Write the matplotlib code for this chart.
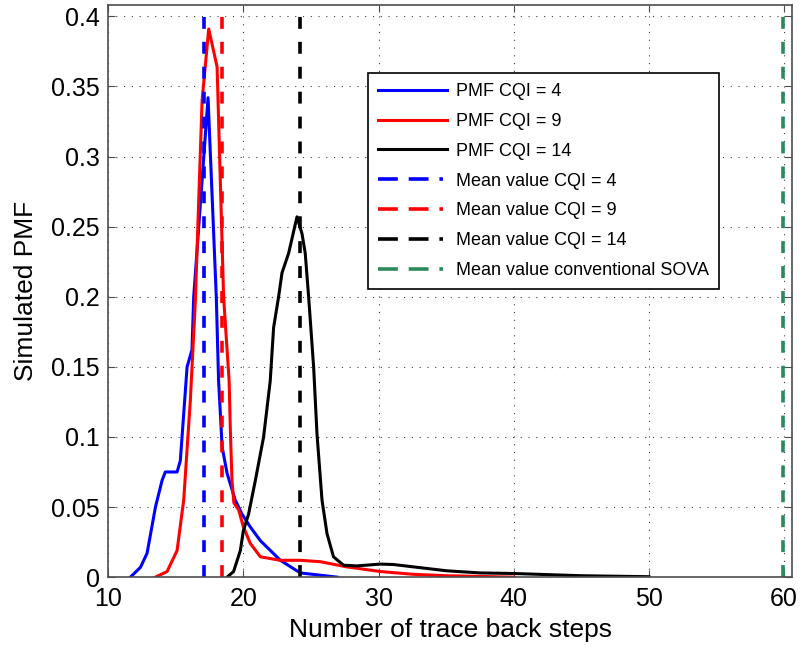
import numpy as np
from matplotlib import pyplot as plt
from matplotlib.lines import Line2D

# PMF curves (x = trace back steps, y = simulated PMF)
cqi4_x = [11.65, 12.39, 12.88, 13.5, 13.99, 14.23, 15.1, 15.34, 15.84, 16.2, 16.33, 17.39,
          18.0, 18.17, 18.3, 18.43, 18.8, 19.4, 19.9, 20.5, 21.26, 22.74, 24.21, 26.93]
cqi4_y = [0.0, 0.007, 0.017, 0.05, 0.069, 0.075, 0.075, 0.083, 0.15, 0.162, 0.2, 0.342,
          0.2, 0.14, 0.117, 0.093, 0.074, 0.055, 0.045, 0.036, 0.026, 0.012, 0.003, 0.0]

cqi9_x = [13.5, 14.36, 15.1, 15.59, 16.08, 16.45, 16.95, 17.44, 18.06, 18.54, 18.95, 19.04,
          19.16, 19.3, 19.65, 20.0, 20.52, 21.26, 22.74, 24.21, 25.69, 27.66, 30.12, 32.57,
          35.0, 40.0]
cqi9_y = [0.0, 0.004, 0.019, 0.055, 0.126, 0.197, 0.34, 0.391, 0.364, 0.2, 0.14, 0.105,
          0.069, 0.053, 0.048, 0.036, 0.024, 0.0145, 0.012, 0.012, 0.011, 0.0073, 0.004, 0.002,
          0.001, 0.0]

cqi14_x = [18.8, 19.28, 19.78, 20.0, 20.39, 20.89, 21.5, 21.99, 22.24, 22.61, 22.86, 23.35,
           23.97, 24.34, 24.58, 24.83, 25.2, 25.45, 25.82, 26.19, 26.67, 27.41, 28.4, 30.13,
           31.11, 32.59, 35.06, 37.52, 39.96, 45.0, 50.0]
cqi14_y = [0.0, 0.004, 0.019, 0.033, 0.045, 0.069, 0.1, 0.14, 0.178, 0.2, 0.217, 0.231,
           0.257, 0.245, 0.231, 0.2, 0.15, 0.102, 0.055, 0.031, 0.0145, 0.0085, 0.008, 0.0093,
           0.009, 0.0073, 0.0045, 0.003, 0.0026, 0.001, 0.0003]

# mean values (vertical lines)
mean_cqi4 = 17.12
mean_cqi9 = 18.43
mean_cqi14 = 24.16
mean_sova = 59.95

x_ticks = [10, 20, 30, 40, 50, 60]
y_ticks = [0, 0.05, 0.1, 0.15, 0.2, 0.25, 0.3, 0.35, 0.4]
y_tick_labels = ["0", "0.05", "0.1", "0.15", "0.2", "0.25", "0.3", "0.35", "0.4"]

plt.rcParams['font.family'] = ['Liberation Sans', 'DejaVu Sans']

fig = plt.figure(figsize=(8.01, 6.47), dpi=100)
ax = fig.add_axes([0.135, 0.108, 0.854, 0.884])

green = "#2a8a5a"
lw = 2.2
ax.plot(cqi4_x, cqi4_y, color="blue", lw=lw)
ax.plot(cqi9_x, cqi9_y, color="red", lw=lw)
ax.plot(cqi14_x, cqi14_y, color="black", lw=lw)

# mean value lines
mlw = 2.6
dash = (0, (3.3, 3.6))
ax.axvline(mean_cqi4, color="blue", lw=mlw, linestyle=dash)
ax.axvline(mean_cqi9, color="red", lw=mlw, linestyle=dash)
ax.axvline(mean_cqi14, color="black", lw=mlw, linestyle=dash)
ax.axvline(mean_sova, color=green, lw=mlw, linestyle=dash)

ax.set_xlim(10, 60.6)
ax.set_ylim(0, 0.408)
ax.set_xticks(x_ticks)
ax.set_yticks(y_ticks)
ax.set_yticklabels(y_tick_labels)
ax.tick_params(direction="in", top=True, right=True, labelsize=18, length=5, color="0.3")
ax.tick_params(axis="x", pad=7)
ax.tick_params(axis="y", pad=6)
for s in ax.spines.values():
    s.set_color("0.3")
    s.set_linewidth(1.2)

ax.grid(True, color="0.25", linestyle=(0, (1, 6)), lw=0.8)

ax.set_xlabel("Number of trace back steps", fontsize=19)
ax.set_ylabel("Simulated PMF", fontsize=19)
ax.xaxis.set_label_coords(0.5, -0.072)
ax.yaxis.set_label_coords(-0.102, 0.5)

# legend handles (dash-dash-dot pattern like the original legend)
leg_dash = (0, (5.5, 3, 5.5, 3, 1, 3))
handles = [
    Line2D([], [], color="blue", lw=lw),
    Line2D([], [], color="red", lw=lw),
    Line2D([], [], color="black", lw=lw),
    Line2D([], [], color="blue", lw=mlw, linestyle=leg_dash),
    Line2D([], [], color="red", lw=mlw, linestyle=leg_dash),
    Line2D([], [], color="black", lw=mlw, linestyle=leg_dash),
    Line2D([], [], color=green, lw=mlw, linestyle=leg_dash),
]
labels = ["PMF CQI = 4", "PMF CQI = 9", "PMF CQI = 14", "Mean value CQI = 4",
          "Mean value CQI = 9", "Mean value CQI = 14", "Mean value conventional SOVA"]

leg = ax.legend(handles, labels, loc="upper left", bbox_to_anchor=(0.38, 0.881), fontsize=13,
                frameon=True, fancybox=False, handlelength=3.8, handletextpad=0.5,
                labelspacing=0.71, borderpad=0.55, borderaxespad=0)
leg.get_frame().set_edgecolor("black")
leg.get_frame().set_linewidth(1.2)
leg.get_frame().set_alpha(1)

plt.savefig("out.png", dpi=100)
